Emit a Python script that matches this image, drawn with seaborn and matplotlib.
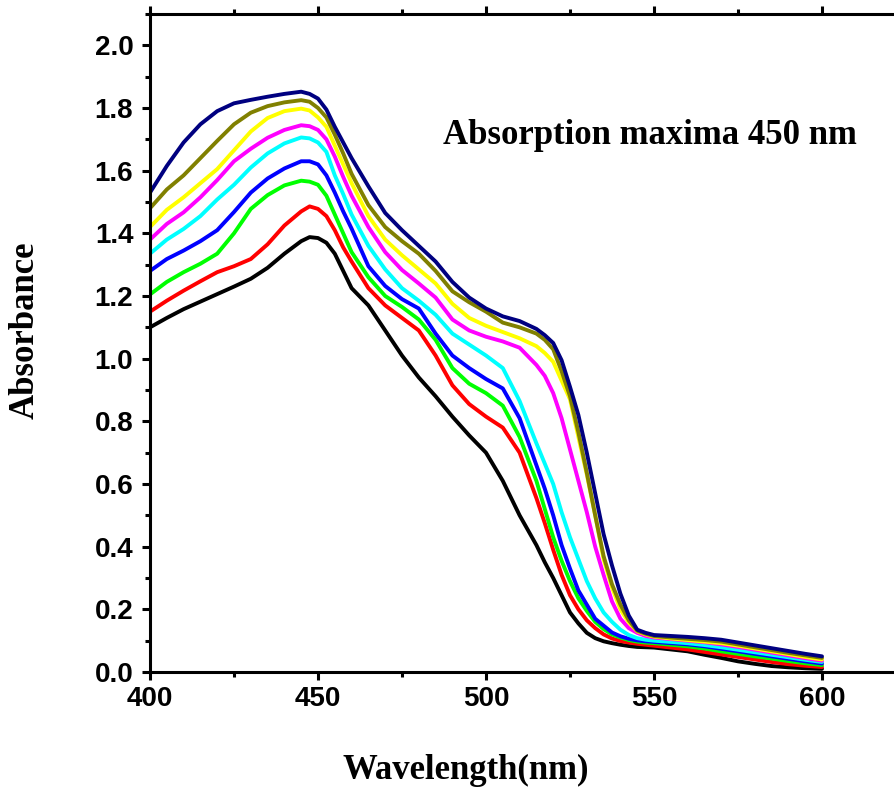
import numpy as np
import pandas as pd
import matplotlib
matplotlib.use("Agg")
import matplotlib.pyplot as plt
import seaborn as sns
from matplotlib.ticker import MultipleLocator

# ─── Data ─────────────────────────────────────────────────────────────────────
wavelength = [400, 405, 410, 415, 420, 425, 430, 435, 440, 445,
              447.5, 450, 452.5, 455, 457.5,
              460, 465, 470, 475, 480, 485, 490, 495, 500, 505, 510, 515,
              517.5, 520, 522.5, 525, 527.5, 530, 532.5, 535, 537.5, 540, 542.5, 545, 547.5,
              550, 555, 560, 565, 570, 575, 580, 585, 590, 595, 600]

abs_black = [1.10, 1.13, 1.158, 1.182, 1.206, 1.23, 1.255, 1.29, 1.335, 1.375,
             1.388, 1.385, 1.37, 1.335, 1.28,
             1.225, 1.17, 1.09, 1.01, 0.94, 0.88, 0.815, 0.755, 0.70, 0.61, 0.50, 0.405,
             0.35, 0.30, 0.245, 0.19, 0.155, 0.125, 0.108, 0.098, 0.092, 0.087, 0.083, 0.08, 0.079,
             0.078, 0.072, 0.066, 0.055, 0.045, 0.034, 0.026, 0.019, 0.015, 0.012, 0.01]
abs_red = [1.15, 1.185, 1.217, 1.247, 1.276, 1.295, 1.318, 1.365, 1.425, 1.47,
           1.486, 1.478, 1.455, 1.41, 1.355,
           1.31, 1.225, 1.17, 1.13, 1.09, 1.01, 0.915, 0.855, 0.815, 0.78, 0.70, 0.555,
           0.475, 0.39, 0.31, 0.245, 0.20, 0.165, 0.14, 0.12, 0.107, 0.099, 0.094, 0.09, 0.087,
           0.084, 0.078, 0.072, 0.064, 0.056, 0.048, 0.04, 0.032, 0.025, 0.02, 0.016]
abs_green = [1.205, 1.245, 1.276, 1.303, 1.335, 1.40, 1.478, 1.522, 1.553, 1.568,
             1.565, 1.555, 1.52, 1.46, 1.40,
             1.34, 1.26, 1.20, 1.165, 1.125, 1.06, 0.97, 0.92, 0.89, 0.85, 0.75, 0.61,
             0.52, 0.43, 0.355, 0.29, 0.235, 0.195, 0.16, 0.137, 0.12, 0.11, 0.102, 0.097, 0.094,
             0.092, 0.087, 0.082, 0.075, 0.066, 0.058, 0.05, 0.043, 0.035, 0.028, 0.022]
abs_blue = [1.28, 1.318, 1.345, 1.375, 1.41, 1.468, 1.53, 1.575, 1.607, 1.63,
            1.63, 1.62, 1.585, 1.53, 1.47,
            1.415, 1.295, 1.232, 1.19, 1.16, 1.08, 1.01, 0.97, 0.935, 0.905, 0.81, 0.66,
            0.585, 0.50, 0.405, 0.33, 0.26, 0.215, 0.17, 0.148, 0.126, 0.114, 0.106, 0.101, 0.098,
            0.096, 0.092, 0.088, 0.082, 0.074, 0.066, 0.058, 0.05, 0.042, 0.034, 0.027]
abs_cyan = [1.335, 1.38, 1.414, 1.455, 1.508, 1.555, 1.61, 1.655, 1.687, 1.706,
            1.703, 1.69, 1.66, 1.585, 1.525,
            1.46, 1.36, 1.285, 1.225, 1.185, 1.14, 1.08, 1.045, 1.01, 0.97, 0.865, 0.73,
            0.665, 0.60, 0.51, 0.43, 0.36, 0.29, 0.235, 0.19, 0.16, 0.135, 0.118, 0.108, 0.103,
            0.10, 0.096, 0.092, 0.086, 0.079, 0.071, 0.063, 0.055, 0.047, 0.039, 0.032]
abs_magenta = [1.38, 1.43, 1.467, 1.515, 1.57, 1.63, 1.67, 1.705, 1.73, 1.745,
               1.742, 1.73, 1.70, 1.645, 1.58,
               1.52, 1.42, 1.34, 1.283, 1.24, 1.195, 1.125, 1.09, 1.07, 1.055, 1.035, 0.98,
               0.945, 0.89, 0.81, 0.71, 0.61, 0.51, 0.40, 0.31, 0.225, 0.17, 0.14, 0.125, 0.115,
               0.11, 0.105, 0.10, 0.095, 0.088, 0.08, 0.071, 0.062, 0.053, 0.044, 0.036]
abs_yellow = [1.42, 1.475, 1.515, 1.56, 1.605, 1.665, 1.725, 1.768, 1.79, 1.798,
              1.792, 1.77, 1.74, 1.68, 1.62,
              1.56, 1.455, 1.38, 1.33, 1.285, 1.24, 1.175, 1.13, 1.105, 1.085, 1.065, 1.04,
              1.018, 0.99, 0.93, 0.87, 0.75, 0.63, 0.50, 0.36, 0.27, 0.20, 0.158, 0.13, 0.12,
              0.113, 0.107, 0.102, 0.097, 0.092, 0.084, 0.075, 0.066, 0.057, 0.048, 0.04]
abs_olive = [1.48, 1.54, 1.585, 1.64, 1.695, 1.748, 1.785, 1.806, 1.818, 1.825,
             1.82, 1.80, 1.77, 1.715, 1.655,
             1.59, 1.49, 1.42, 1.375, 1.335, 1.28, 1.215, 1.18, 1.15, 1.115, 1.10, 1.08,
             1.06, 1.03, 0.96, 0.88, 0.765, 0.636, 0.50, 0.37, 0.28, 0.215, 0.165, 0.132, 0.122,
             0.115, 0.11, 0.106, 0.102, 0.097, 0.088, 0.079, 0.07, 0.061, 0.053, 0.045]
abs_navy = [1.53, 1.615, 1.69, 1.748, 1.79, 1.815, 1.826, 1.836, 1.845, 1.852,
            1.845, 1.83, 1.795, 1.74, 1.69,
            1.64, 1.55, 1.465, 1.41, 1.36, 1.31, 1.245, 1.195, 1.16, 1.135, 1.12, 1.095,
            1.075, 1.05, 0.995, 0.91, 0.82, 0.70, 0.57, 0.44, 0.34, 0.25, 0.18, 0.135, 0.125,
            0.118, 0.115, 0.112, 0.108, 0.103, 0.094, 0.085, 0.076, 0.067, 0.058, 0.05]

series = {
    "S1": abs_black, "S2": abs_red, "S3": abs_green, "S4": abs_blue,
    "S5": abs_cyan, "S6": abs_magenta, "S7": abs_yellow, "S8": abs_olive,
    "S9": abs_navy,
}
colors = ["#000000", "#FF0000", "#00FF00", "#0000FF", "#00FFFF",
          "#FF00FF", "#FFFF00", "#808000", "#000080"]

df = pd.concat(
    [pd.DataFrame({"wavelength": wavelength, "absorbance": v, "sample": k})
     for k, v in series.items()],
    ignore_index=True,
)

# ─── Styling ──────────────────────────────────────────────────────────────────
sns.set_theme(style="ticks")
plt.rcParams.update({
    "font.family": ["Liberation Sans", "DejaVu Sans"],
    "text.color": "black",
    "axes.labelcolor": "black",
    "xtick.color": "black",
    "ytick.color": "black",
    "axes.edgecolor": "black",
})

fig = plt.figure(figsize=(8.94, 7.92), dpi=100)
ax = fig.add_axes([150 / 894, 120 / 792, 756 / 894, 658 / 792])

sns.lineplot(data=df, x="wavelength", y="absorbance", hue="sample",
             palette=colors, linewidth=2.8, legend=False, ax=ax, sort=False,
             solid_joinstyle="round", solid_capstyle="round")

ax.set_xlim(400, 625)
ax.set_ylim(0, 2.1)
ax.xaxis.set_major_locator(MultipleLocator(50))
ax.xaxis.set_minor_locator(MultipleLocator(25))
ax.yaxis.set_major_locator(MultipleLocator(0.2))
ax.yaxis.set_minor_locator(MultipleLocator(0.1))
ax.yaxis.set_major_formatter(plt.FormatStrFormatter("%.1f"))

for s in ax.spines.values():
    s.set_linewidth(2.2)
ax.tick_params(which="both", direction="out", top=True, right=False, width=2.2)
ax.tick_params(which="major", length=6, labelsize=20)
ax.tick_params(axis="x", which="major", pad=4)
ax.tick_params(axis="y", which="major", pad=6)
ax.tick_params(which="minor", length=3.5)
for lab in ax.get_xticklabels() + ax.get_yticklabels():
    lab.set_fontweight("bold")

serif = ["Liberation Serif", "DejaVu Serif"]
ax.set_xlabel("Wavelength(nm)", family=serif, fontweight="bold", fontsize=25)
ax.set_ylabel("Absorbance", family=serif, fontweight="bold", fontsize=25)
ax.xaxis.set_label_coords(0.417, -0.125)
ax.yaxis.set_label_coords(-0.143, 0.52)

ax.text(487.2, 1.686, "Absorption maxima 450 nm", family=serif,
        fontweight="bold", fontsize=25, va="baseline", ha="left")

fig.savefig("out.png", dpi=100)
